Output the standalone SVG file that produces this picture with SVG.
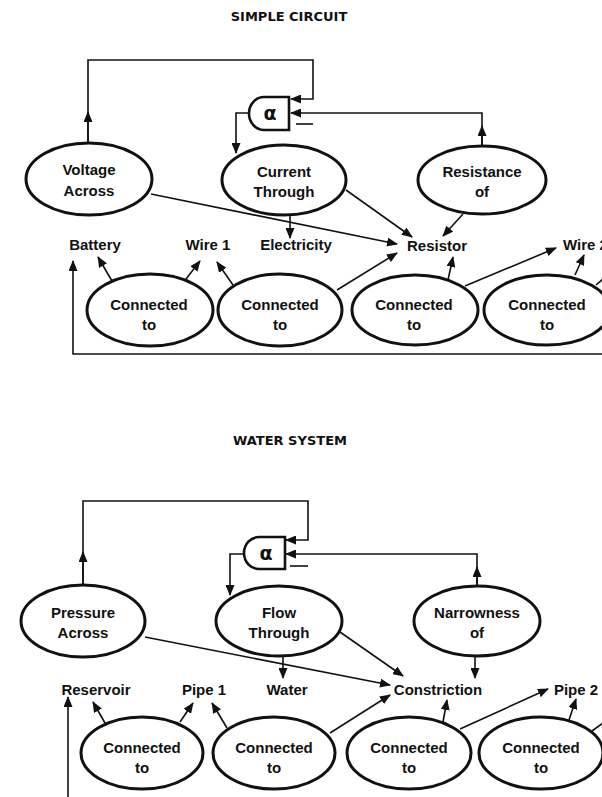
<svg xmlns="http://www.w3.org/2000/svg" width="602" height="797" viewBox="0 0 602 797">
<style>
.title{font-family:"DejaVu Sans",sans-serif;font-weight:bold;font-size:13px;text-anchor:middle;fill:#111}
.t{font-family:"Liberation Sans",Arial,sans-serif;font-weight:bold;font-size:15px;text-anchor:middle;fill:#111}
.node ellipse{fill:#fff;stroke:#111;stroke-width:3}
.gate path{fill:#fff;stroke:#111;stroke-width:2.6}
.gate text{font-family:"DejaVu Sans",sans-serif;font-weight:bold;font-size:19px;text-anchor:middle;fill:#111}
.c path{fill:none;stroke:#111;stroke-width:1.6}
.c .a{marker-end:url(#ah)}
</style>
<defs>
<marker id="ah" markerUnits="userSpaceOnUse" markerWidth="11" markerHeight="9" refX="10" refY="4.5" orient="auto" viewBox="0 0 11 9">
<path d="M0,0 L11,4.5 L0,9 Z" fill="#111"/>
</marker>
</defs>
<rect width="602" height="797" fill="#fff"/>

<text class="title" x="289" y="21">SIMPLE CIRCUIT</text>
<text class="title" x="290" y="445">WATER SYSTEM</text>

<!-- ===== SIMPLE CIRCUIT connectors ===== -->
<g id="connectors-circuit" class="c">
<path class="a" d="M88,143 V112"/>
<path class="a" d="M88,143 V60 H313 V99 H291"/>
<path class="a" d="M482,146 V126"/>
<path class="a" d="M482,146 V113 H291"/>
<path class="a" d="M249,113 H236 V153"/>
<path d="M296,124 H313"/>
<path class="a" d="M151,194 L397,244"/>
<path class="a" d="M346,190 L412,237"/>
<path class="a" d="M463,214 L443,236"/>
<path class="a" d="M290,215 V238"/>
<path class="a" d="M602,354 H73 V261"/>
<path class="a" d="M112,281 L98,257"/>
<path class="a" d="M186,279 L200,261"/>
<path class="a" d="M233,285 L217,262"/>
<path class="a" d="M337,290 L397,253"/>
<path class="a" d="M448,280 L453,257"/>
<path class="a" d="M465,286 L556,248"/>
<path class="a" d="M575,275 L584,255"/>
<path d="M596,285 L610,273"/>
</g>

<!-- ===== SIMPLE CIRCUIT nodes ===== -->
<g id="gate-circuit" class="gate">
<path d="M289,97 H264 A15,16.5 0 0 0 264,130 H289 Z"/>
<text x="270" y="120">α</text>
</g>
<g id="voltage-across" class="node">
<ellipse cx="89" cy="179" rx="63" ry="36"/>
<text class="t" x="89" y="175">Voltage</text>
<text class="t" x="89" y="196">Across</text>
</g>
<g id="current-through" class="node">
<ellipse cx="284" cy="180" rx="62" ry="35"/>
<text class="t" x="284" y="177">Current</text>
<text class="t" x="284" y="197">Through</text>
</g>
<g id="resistance-of" class="node">
<ellipse cx="482" cy="180" rx="64" ry="34"/>
<text class="t" x="482" y="177">Resistance</text>
<text class="t" x="482" y="197">of</text>
</g>
<g id="battery"><text class="t" x="95" y="250">Battery</text></g>
<g id="wire1"><text class="t" x="208" y="250">Wire 1</text></g>
<g id="electricity"><text class="t" x="296" y="250">Electricity</text></g>
<g id="resistor"><text class="t" x="437" y="251">Resistor</text></g>
<g id="wire2"><text class="t" x="563" y="250" style="text-anchor:start">Wire 2</text></g>
<g id="conn-c1" class="node">
<ellipse cx="150" cy="310" rx="63" ry="36"/>
<text class="t" x="149" y="310">Connected</text>
<text class="t" x="149" y="330">to</text>
</g>
<g id="conn-c2" class="node">
<ellipse cx="280" cy="310" rx="62" ry="36"/>
<text class="t" x="280" y="310">Connected</text>
<text class="t" x="280" y="330">to</text>
</g>
<g id="conn-c3" class="node">
<ellipse cx="415" cy="310" rx="63" ry="35"/>
<text class="t" x="414" y="310">Connected</text>
<text class="t" x="414" y="330">to</text>
</g>
<g id="conn-c4" class="node">
<ellipse cx="547" cy="310" rx="63" ry="35"/>
<text class="t" x="547" y="310">Connected</text>
<text class="t" x="547" y="330">to</text>
</g>

<!-- ===== WATER SYSTEM connectors ===== -->
<g id="connectors-water" class="c">
<path class="a" d="M83,586 V552"/>
<path class="a" d="M83,586 V501 H308 V540 H286"/>
<path class="a" d="M477,586 V567"/>
<path class="a" d="M477,586 V554 H286"/>
<path class="a" d="M243,554 H230 V595"/>
<path d="M290,566 H308"/>
<path class="a" d="M145,637 L390,685"/>
<path class="a" d="M340,632 L403,676"/>
<path class="a" d="M475,657 V678"/>
<path class="a" d="M283,657 V678"/>
<path class="a" d="M68,797 V697"/>
<path class="a" d="M105,723 L93,702"/>
<path class="a" d="M180,722 L193,703"/>
<path class="a" d="M227,728 L212,703"/>
<path class="a" d="M330,733 L390,695"/>
<path class="a" d="M443,722 L447,700"/>
<path class="a" d="M460,729 L548,689"/>
<path class="a" d="M569,720 L576,699"/>
<path d="M592,731 L606,721"/>
</g>

<!-- ===== WATER SYSTEM nodes ===== -->
<g id="gate-water" class="gate">
<path d="M285,537 H259 A15,16 0 0 0 259,569 H285 Z"/>
<text x="266" y="560">α</text>
</g>
<g id="pressure-across" class="node">
<ellipse cx="83" cy="621" rx="62" ry="36"/>
<text class="t" x="83" y="618">Pressure</text>
<text class="t" x="83" y="638">Across</text>
</g>
<g id="flow-through" class="node">
<ellipse cx="279" cy="621" rx="63" ry="35"/>
<text class="t" x="279" y="618">Flow</text>
<text class="t" x="279" y="638">Through</text>
</g>
<g id="narrowness-of" class="node">
<ellipse cx="477" cy="621" rx="63" ry="35"/>
<text class="t" x="477" y="618">Narrowness</text>
<text class="t" x="477" y="638">of</text>
</g>
<g id="reservoir"><text class="t" x="96" y="695">Reservoir</text></g>
<g id="pipe1"><text class="t" x="204" y="695">Pipe 1</text></g>
<g id="water"><text class="t" x="287" y="695">Water</text></g>
<g id="constriction"><text class="t" x="438" y="695">Constriction</text></g>
<g id="pipe2"><text class="t" x="576" y="695">Pipe 2</text></g>
<g id="conn-w1" class="node">
<ellipse cx="142" cy="753" rx="61" ry="36"/>
<text class="t" x="142" y="753">Connected</text>
<text class="t" x="142" y="773">to</text>
</g>
<g id="conn-w2" class="node">
<ellipse cx="274" cy="753" rx="61" ry="36"/>
<text class="t" x="274" y="753">Connected</text>
<text class="t" x="274" y="773">to</text>
</g>
<g id="conn-w3" class="node">
<ellipse cx="409" cy="753" rx="62" ry="36"/>
<text class="t" x="409" y="753">Connected</text>
<text class="t" x="409" y="773">to</text>
</g>
<g id="conn-w4" class="node">
<ellipse cx="541" cy="753" rx="62" ry="36"/>
<text class="t" x="541" y="753">Connected</text>
<text class="t" x="541" y="773">to</text>
</g>
</svg>
